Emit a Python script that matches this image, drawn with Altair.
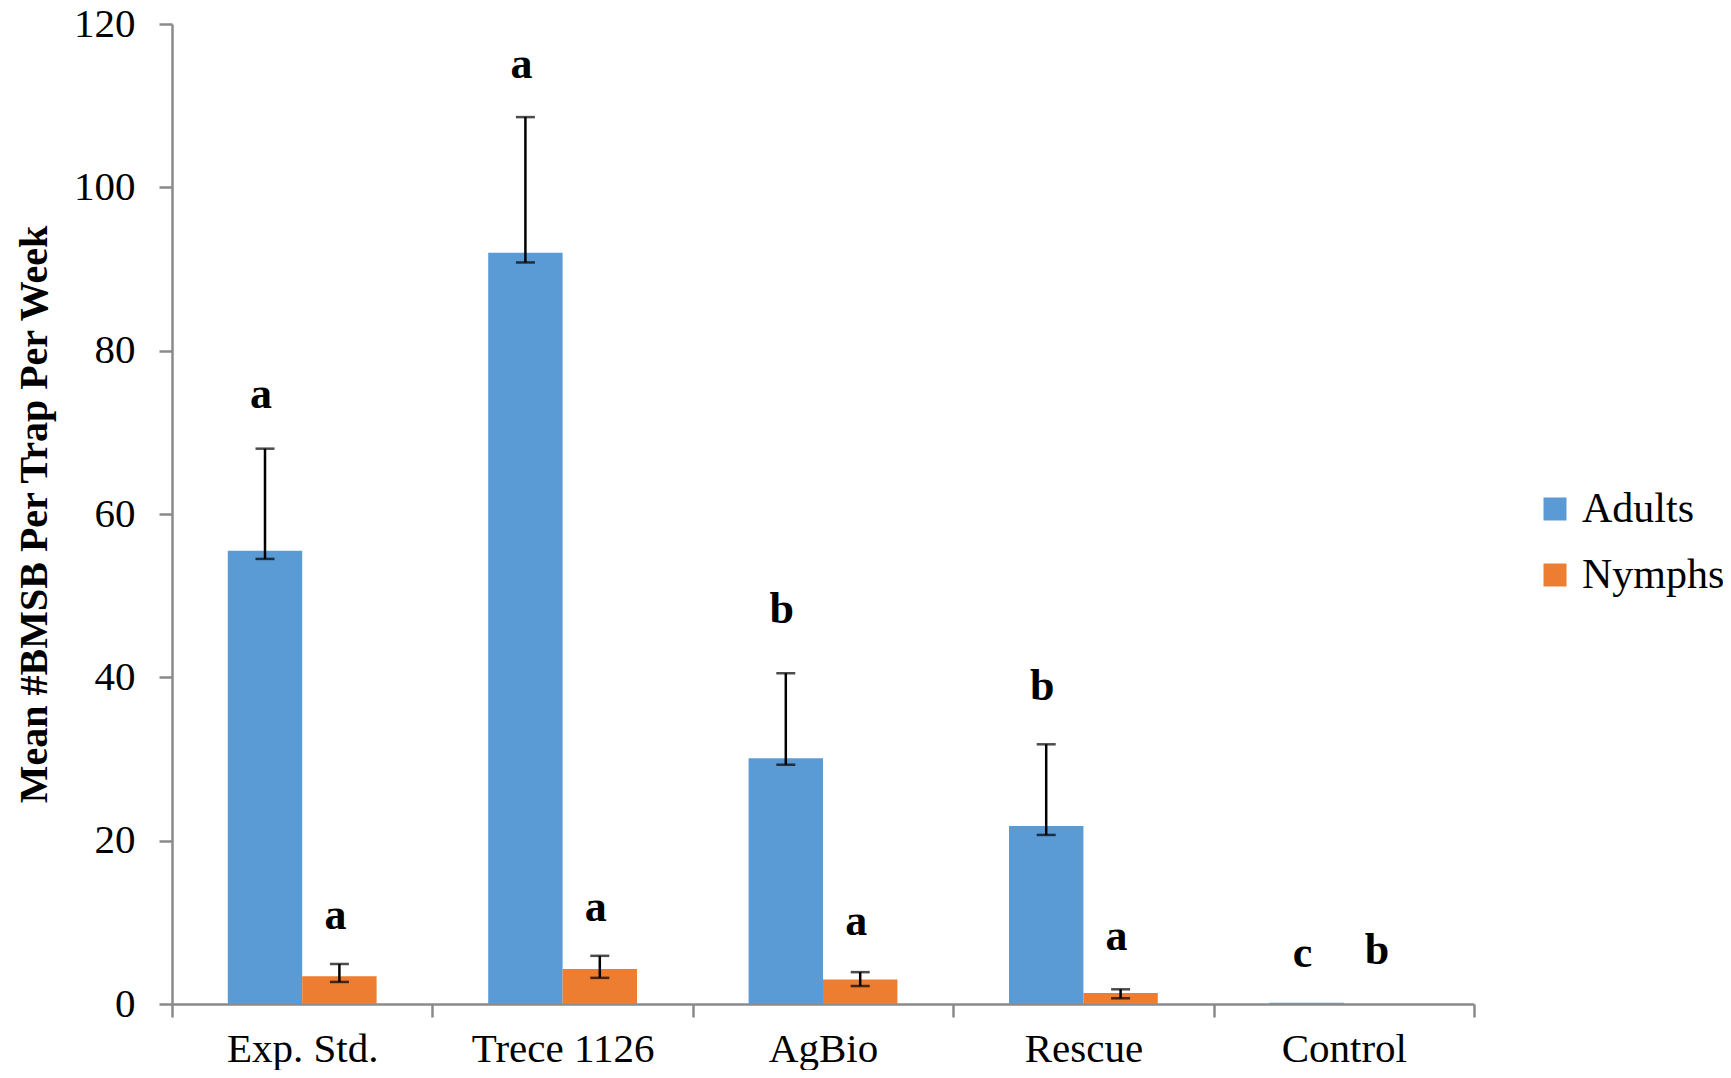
import altair as alt
import pandas as pd

categories = ["Exp. Std.", "Trece 1126", "AgBio", "Rescue", "Control"]
series = ["Adults", "Nymphs"]
colors = ["#5B9BD5", "#ED7D31"]

adults = [55.5, 92.0, 30.1, 21.8, 0.15]
adults_lo = [54.5, 90.8, 29.3, 20.7, None]
adults_hi = [68.0, 108.6, 40.5, 31.8, None]
adults_letters = ["a", "a", "b", "b", "c"]
adults_letter_y = [74.6, 115.0, 48.2, 38.8, 6.1]

nymphs = [3.4, 4.3, 3.0, 1.35, 0.0]
nymphs_lo = [2.7, 3.2, 2.2, 0.7, None]
nymphs_hi = [4.9, 5.9, 3.9, 1.8, None]
nymphs_letters = ["a", "a", "a", "a", "b"]
nymphs_letter_y = [10.8, 11.8, 10.0, 8.2, 6.5]

rows = []
for i, c in enumerate(categories):
    rows.append(dict(category=c, series="Adults", value=adults[i], lo=adults_lo[i],
                     hi=adults_hi[i], letter=adults_letters[i], ly=adults_letter_y[i]))
    rows.append(dict(category=c, series="Nymphs", value=nymphs[i], lo=nymphs_lo[i],
                     hi=nymphs_hi[i], letter=nymphs_letters[i], ly=nymphs_letter_y[i]))
df = pd.DataFrame(rows)

FONT = "Liberation Serif"

x_enc = alt.X("category:N", sort=categories,
              scale=alt.Scale(paddingInner=0, paddingOuter=0),
              axis=alt.Axis(title=None, labelAngle=0, tickBand="extent", labelPadding=12,
                            labelFontSize=41, labelLimit=500))
xo_enc = alt.XOffset("series:N", sort=series,
                     scale=alt.Scale(paddingInner=0, paddingOuter=0.75))
y_scale = alt.Scale(domain=[0, 120], nice=False)

base = alt.Chart(df).encode(x=x_enc, xOffset=xo_enc)

bars = base.mark_bar().encode(
    y=alt.Y("value:Q", scale=y_scale,
            axis=alt.Axis(values=[0, 20, 40, 60, 80, 100, 120],
                          title="Mean #BMSB Per Trap Per Week",
                          titleFont=FONT, titleFontWeight="bold", titleFontSize=40,
                          titleColor="black", titlePadding=19, labelPadding=24,
                          labelFontSize=41)),
    color=alt.Color("series:N", sort=series,
                    scale=alt.Scale(domain=series, range=colors),
                    legend=alt.Legend(orient="none", legendX=1362, legendY=464, title=None,
                                      labelFont=FONT, labelFontSize=42, labelColor="black",
                                      symbolType="square", symbolSize=529,
                                      symbolStrokeWidth=0, labelOffset=6,
                                      rowPadding=24, padding=0)),
)

err = base.transform_filter("isValid(datum.hi)")
rules = err.mark_rule(color="black", strokeWidth=2.5).encode(
    y=alt.Y("lo:Q", scale=y_scale), y2="hi:Q")
cap_hi = err.mark_tick(color="black", thickness=2.5, size=19).encode(
    y=alt.Y("hi:Q", scale=y_scale))
cap_lo = err.mark_tick(color="black", thickness=2.5, size=19).encode(
    y=alt.Y("lo:Q", scale=y_scale))

letters = base.mark_text(font=FONT, fontWeight="bold", fontSize=44, color="black",
                         baseline="middle", align="center", dx=-4).encode(
    y=alt.Y("ly:Q", scale=y_scale), text="letter:N")

chart = alt.layer(bars, rules, cap_hi, cap_lo, letters).properties(
    width=1302, height=980,
    autosize=alt.AutoSizeParams(type="none"),
    padding={"left": 164, "top": 16, "right": 249, "bottom": 66},
).configure_view(stroke=None).configure_axis(
    domainColor="#8a8a8a", domainWidth=2.5, tickColor="#8a8a8a", tickWidth=2.5,
    tickSize=13, labelFont=FONT, labelFontSize=42, labelColor="black", grid=False,
)

chart.save("out.html", embed_options={"renderer": "svg", "actions": False})
